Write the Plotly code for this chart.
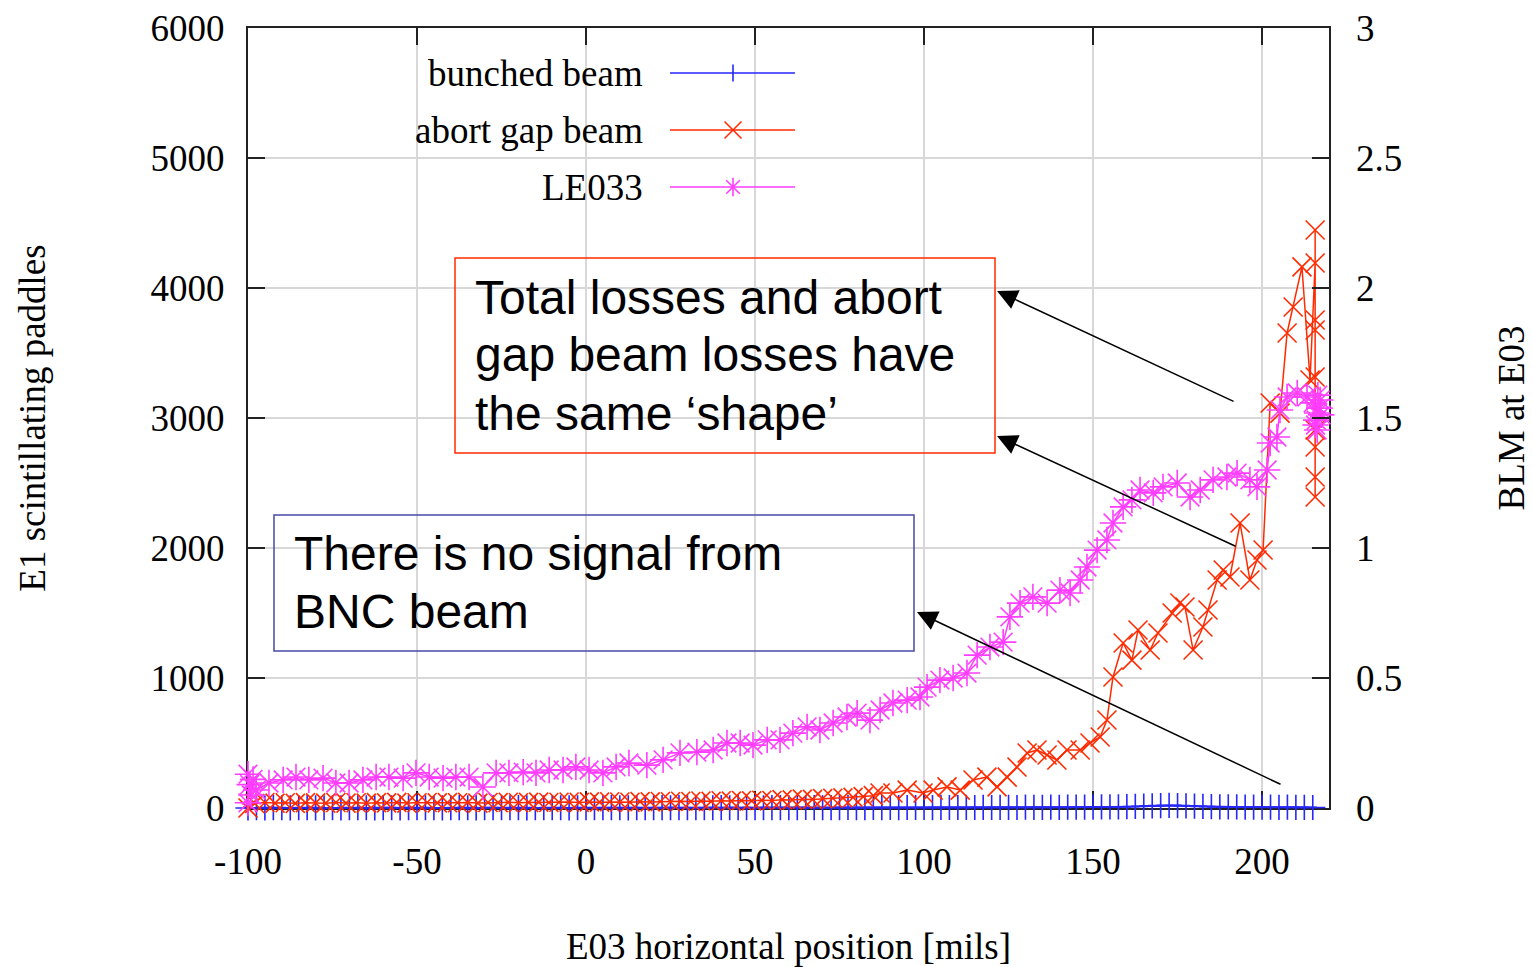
import plotly.graph_objects as go

# ---------------------------------------------------------------- data
# bunched beam (E1 scintillating paddles counts)
bunched_x = [
    -100, -97.5, -95, -92.5, -90, -87.5, -85, -82.5, -80, -77.5,
    -75, -72.5, -70, -67.5, -65, -62.5, -60, -57.5, -55, -52.5,
    -50, -47.5, -45, -42.5, -40, -37.5, -35, -32.5, -30, -27.5,
    -25, -22.5, -20, -17.5, -15, -12.5, -10, -7.5, -5, -2.5,
    0, 2.5, 5, 7.5, 10, 12.5, 15, 17.5, 20, 22.5,
    25, 27.5, 30, 32.5, 35, 37.5, 40, 42.5, 45, 47.5,
    50, 52.5, 55, 57.5, 60, 62.5, 65, 67.5, 70, 72.5,
    75, 77.5, 80, 82.5, 85, 87.5, 90, 92.5, 95, 97.5,
    100, 102.5, 105, 107.5, 110, 112.5, 115, 117.5, 120, 122.5,
    125, 127.5, 130, 132.5, 135, 137.5, 140, 142.5, 145, 147.5,
    150, 152.5, 155, 157.5, 160, 162.5, 165, 167.5, 170, 172.5,
    175, 177.5, 180, 182.5, 185, 187.5, 190, 192.5, 195, 197.5,
    200, 202.5, 205, 207.5, 210, 212.5, 215,
]
bunched_y = [
    0, 2, 1, 3, 2, 1, 2, 3, 1, 2,
    2, 1, 3, 2, 2, 1, 3, 2, 1, 2,
    3, 2, 2, 1, 2, 3, 2, 1, 2, 3,
    2, 2, 3, 1, 2, 2, 3, 2, 1, 2,
    3, 2, 2, 3, 2, 1, 3, 2, 2, 3,
    2, 3, 2, 2, 3, 2, 3, 2, 3, 2,
    3, 2, 3, 3, 2, 3, 4, 3, 2, 3,
    3, 4, 3, 3, 4, 3, 4, 3, 4, 4,
    4, 3, 5, 4, 4, 5, 4, 5, 4, 5,
    5, 4, 6, 5, 5, 6, 5, 6, 6, 7,
    7, 8, 8, 9, 10, 12, 14, 16, 18, 20,
    19, 16, 14, 12, 10, 9, 8, 8, 7, 7,
    6, 6, 5, 6, 5, 5, 4,
]

# abort gap beam (E1 scintillating paddles counts)
abort_x = [
    -100, -98, -95, -92, -89, -86, -83, -80, -77, -74, -71,
    -68, -65, -62, -59, -56, -53, -50, -47, -44, -41,
    -38, -35, -32, -29, -26, -23, -20, -17, -14, -11,
    -8, -5, -2, 1, 4, 7, 10, 13, 16, 19,
    22, 25, 28, 31, 34, 37, 40, 43, 46, 49,
    52, 55, 58, 61, 64, 67, 70, 73, 76, 79, 82, 85,
    87.0, 90.8, 95.0, 99.7, 102.7, 106.8, 110.7, 114.5, 118.6, 121.6,
    124.6, 127.5, 130.5, 133.4, 136.4, 139.3, 142.3, 146.2, 149.1, 152.1,
    154.1, 155.9, 158.9, 161.5, 163.3, 166.9, 169.2, 173.4, 175.7, 177.2,
    179.6, 182.5, 184.0, 186.7, 188.5, 190.5, 193.5, 196.4, 198.5, 200.3,
    202.4, 205.3, 207.4, 209.2, 211.8, 214.2,
    215.7, 215.7, 215.7, 215.7, 215.7, 215.7, 215.7, 215.7, 215.7,
]
abort_y = [
    0, 35, 42, 38, 40, 36, 41, 39, 37, 42, 38,
    40, 37, 41, 39, 43, 38, 40, 42, 39, 41,
    40, 43, 38, 42, 41, 44, 40, 43, 45, 42,
    44, 46, 43, 47, 45, 48, 46, 44, 49, 47,
    50, 48, 52, 50, 54, 51, 56, 53, 58, 55,
    60, 58, 64, 62, 68, 66, 72, 75, 78, 82, 88, 95,
    115, 115, 138, 115, 138, 162, 138, 215, 238, 162,
    238, 315, 423, 446, 408, 369, 446, 446, 500, 546,
    677, 1008, 1269, 1138, 1369, 1215, 1346, 1500, 1577, 1546,
    1215, 1392, 1523, 1754, 1831, 1777, 2192, 1754, 1908, 1985,
    3115, 3038, 3654, 3854, 4162, 3292,
    4192, 4446, 3754, 3677, 3315, 2908, 2777, 2546, 2392,
]

# LE033 (BLM at E03)
le033_x = [
    -100, -100, -99.5, -99.0, -98.5,
    -97.6, -93.8, -89.6, -85.8, -82.0, -77.8, -74.0, -70.1, -66.0, -62.1,
    -58.3, -54.1, -50.3, -46.4, -42.3, -38.5, -34.6, -30.5, -26.6, -22.8,
    -18.6, -14.8, -10.9, -6.8, -3.0, 0.9, 5.0, 8.9, 12.7, 18.0,
    22.8, 27.8, 32.8, 37.6, 41.7, 45.6, 49.4, 53.6, 57.4, 61.2,
    65.4, 69.2, 73.1, 77.2, 80.2, 84.0, 87.0, 90.8, 95.0, 98.8,
    100.9, 104.7, 108.6, 112.7, 115.7, 119.5, 123.4, 125.4, 128.4, 132.2,
    136.4, 140.2, 143.2, 146.2, 148.2, 151.2, 154.1, 155.9, 158.9, 161.5,
    163.9, 167.8, 170.7, 174.9, 178.7, 181.7, 185.5, 189.6, 192.6, 196.4,
    198.5, 201.5, 202.4, 204.4, 205.3, 207.4, 210.4, 213.3, 215.1, 216.3,
    217.2, 216.3, 216.0, 217.0, 216.5, 217.5, 215.8,
]
le033_y = [
    0.13, 0.02, 0.09, 0.05, 0.11,
    0.069, 0.096, 0.108, 0.119, 0.108, 0.115, 0.096, 0.096, 0.108, 0.119,
    0.119, 0.115, 0.135, 0.119, 0.115, 0.119, 0.119, 0.081, 0.135, 0.135,
    0.138, 0.135, 0.146, 0.146, 0.158, 0.146, 0.135, 0.158, 0.173, 0.165,
    0.185, 0.212, 0.215, 0.223, 0.250, 0.250, 0.242, 0.262, 0.262, 0.288,
    0.312, 0.300, 0.327, 0.350, 0.365, 0.338, 0.377, 0.404, 0.415, 0.427,
    0.465, 0.492, 0.500, 0.519, 0.588, 0.619, 0.638, 0.735, 0.788, 0.812,
    0.788, 0.838, 0.827, 0.877, 0.927, 0.992, 1.031, 1.096, 1.158, 1.185,
    1.223, 1.212, 1.235, 1.250, 1.196, 1.223, 1.262, 1.273, 1.288, 1.262,
    1.235, 1.300, 1.404, 1.427, 1.531, 1.581, 1.596, 1.581, 1.558, 1.519,
    1.569, 1.454, 1.492, 1.538, 1.588, 1.512, 1.473,
]

series_names = ["bunched beam", "abort gap beam", "LE033"]
x_ticks = [-100, -50, 0, 50, 100, 150, 200]
x_ticktext = ["-100", "-50", "0", "50", "100", "150", "200"]
y_ticks = [0, 1000, 2000, 3000, 4000, 5000, 6000]
y2_ticks = [0, 0.5, 1, 1.5, 2, 2.5, 3]
y2_ticktext = ["0", "0.5", "1", "1.5", "2", "2.5", "3"]

# ---------------------------------------------------------------- style
BLUE = "#2626ff"
RED = "#ff2a00"
PINK = "#ff3dff"
SERIF = "Liberation Serif, Times New Roman, serif"
SANS = "Liberation Sans, Arial, sans-serif"
FS = 37
MLW = 1.6   # marker stroke width

W, H = 1532, 967
ML, MR, MT, MB = 248, 203, 28, 159
PW, PH = W - ML - MR, H - MT - MB


def fx(px):
    """pixel column -> paper x"""
    return (px - ML) / PW


def fy(py):
    """pixel row -> paper y"""
    return (H - MB - py) / PH


fig = go.Figure()

fig.add_trace(go.Scatter(
    x=bunched_x, y=bunched_y, name=series_names[0], mode="lines+markers",
    line=dict(color=BLUE, width=1.6),
    marker=dict(symbol="cross-thin-open", size=18, line=dict(color=BLUE, width=MLW)),
    cliponaxis=False, showlegend=False,
))
fig.add_trace(go.Scatter(
    x=abort_x, y=abort_y, name=series_names[1], mode="lines+markers",
    line=dict(color=RED, width=1.5),
    marker=dict(symbol="x-thin-open", size=19, line=dict(color=RED, width=MLW)),
    cliponaxis=False, showlegend=False,
))
fig.add_trace(go.Scatter(
    x=le033_x, y=le033_y, name=series_names[2], mode="lines+markers", yaxis="y2",
    line=dict(color=PINK, width=1.5),
    marker=dict(symbol="asterisk-open", size=22, line=dict(color=PINK, width=MLW)),
    cliponaxis=False, showlegend=False,
))

axis_common = dict(
    ticks="inside", ticklen=17, tickwidth=1.5, tickcolor="#222222",
    showline=True, linecolor="#222222", linewidth=2,
    showgrid=True, gridcolor="#d8d8d8", gridwidth=1.5,
    zeroline=False, automargin=False, layer="below traces",
    tickfont=dict(family=SERIF, size=FS, color="black"),
)

fig.update_layout(
    width=W, height=H,
    margin=dict(l=ML, r=MR, t=MT, b=MB),
    paper_bgcolor="white", plot_bgcolor="white",
    showlegend=False,
    xaxis=dict(
        range=[-100, 219.8], tickvals=x_ticks, ticktext=x_ticktext, mirror="ticks",
        ticklabelstandoff=20,
        title=dict(text="E03 horizontal position [mils]", standoff=54,
                   font=dict(family=SERIF, size=FS, color="black")),
        **axis_common,
    ),
    yaxis=dict(
        range=[0, 6000], tickvals=y_ticks, mirror=True,
        ticklabelstandoff=14,
        title=dict(text="E1 scintillating paddles", standoff=94,
                   font=dict(family=SERIF, size=FS, color="black")),
        **axis_common,
    ),
    yaxis2=dict(
        range=[0, 3], tickvals=y2_ticks, ticktext=y2_ticktext,
        overlaying="y", side="right",
        ticks="inside", ticklen=17, tickwidth=1.5, tickcolor="#222222",
        showline=False, showgrid=False, zeroline=False, automargin=False,
        ticklabelstandoff=26,
        tickfont=dict(family=SERIF, size=FS, color="black"),
        title=dict(text="BLM at E03", standoff=100,
                   font=dict(family=SERIF, size=FS, color="black")),
    ),
)

shapes = []
annotations = []

# key: white panel over the grid, labels on the left, samples on the right
shapes.append(dict(type="rect", xref="paper", yref="paper", layer="between",
                   x0=fx(275), x1=fx(820), y0=fy(215), y1=fy(31),
                   line=dict(width=0), fillcolor="white"))
key_rows = [73, 130, 187]
key_colors = [BLUE, RED, PINK]
for name, row, col in zip(series_names, key_rows, key_colors):
    annotations.append(dict(xref="paper", yref="paper", x=fx(645), y=fy(row),
                            xanchor="right", yanchor="middle", showarrow=False,
                            text=name, font=dict(family=SERIF, size=FS, color="black")))
    shapes.append(dict(type="line", xref="paper", yref="paper", layer="above",
                       x0=fx(670), x1=fx(795), y0=fy(row), y1=fy(row),
                       line=dict(color=col, width=1.5)))
cx = fx(733)
dx, dy = 8.5 / PW, 8.5 / PH
# "+" glyph
shapes.append(dict(type="line", xref="paper", yref="paper", x0=cx, x1=cx,
                   y0=fy(73) - dy, y1=fy(73) + dy, line=dict(color=BLUE, width=MLW)))
# "x" glyph
for s in (1, -1):
    shapes.append(dict(type="line", xref="paper", yref="paper",
                       x0=cx - dx, x1=cx + dx, y0=fy(130) - s * dy, y1=fy(130) + s * dy,
                       line=dict(color=RED, width=MLW)))
# "*" glyph
shapes.append(dict(type="line", xref="paper", yref="paper", x0=cx, x1=cx,
                   y0=fy(187) - dy * 1.1, y1=fy(187) + dy * 1.1,
                   line=dict(color=PINK, width=MLW)))
for s in (1, -1):
    shapes.append(dict(type="line", xref="paper", yref="paper",
                       x0=cx - dx * 0.8, x1=cx + dx * 0.8,
                       y0=fy(187) - s * dy * 0.8, y1=fy(187) + s * dy * 0.8,
                       line=dict(color=PINK, width=MLW)))

# comment boxes
shapes.append(dict(type="rect", xref="paper", yref="paper", layer="above",
                   x0=fx(455), x1=fx(995), y0=fy(453), y1=fy(258),
                   line=dict(color="#ff2a00", width=1.5), fillcolor="rgba(0,0,0,0)"))
shapes.append(dict(type="rect", xref="paper", yref="paper", layer="above",
                   x0=fx(274), x1=fx(914), y0=fy(651), y1=fy(515),
                   line=dict(color="#4a4aaa", width=1.5), fillcolor="rgba(0,0,0,0)"))

red_lines = ["Total losses and abort", "gap beam losses have", "the same \u2018shape\u2019"]
for txt, row in zip(red_lines, [297, 355, 413]):
    annotations.append(dict(xref="paper", yref="paper", x=fx(473), y=fy(row),
                            xanchor="left", yanchor="middle", showarrow=False,
                            text=txt, font=dict(family=SANS, size=48, color="black")))
blue_lines = ["There is no signal from", "BNC beam"]
for txt, row in zip(blue_lines, [553, 611]):
    annotations.append(dict(xref="paper", yref="paper", x=fx(292), y=fy(row),
                            xanchor="left", yanchor="middle", showarrow=False,
                            text=txt, font=dict(family=SANS, size=48, color="black")))

# arrows from the curves to the comment boxes (tail -> head, data units)
arrows = [
    ((192.0, 3123), (121.6, 3977)),
    ((192.6, 2008), (121.6, 2862)),
    ((205.9, 177), (97.9, 1508)),
]
for (tx, ty), (hx, hy) in arrows:
    annotations.append(dict(x=hx, y=hy, ax=tx, ay=ty, xref="x", yref="y",
                            axref="x", ayref="y", text="", showarrow=True,
                            arrowhead=2, arrowsize=2.7, arrowwidth=1.5,
                            arrowcolor="black"))

fig.update_layout(shapes=shapes, annotations=annotations)
fig.write_html("out.html")
